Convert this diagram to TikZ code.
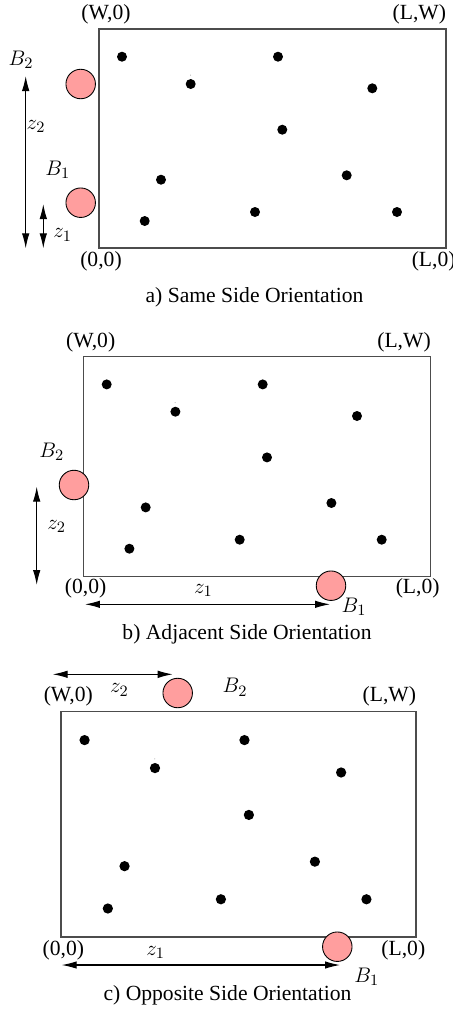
\documentclass[tikz,border=0pt]{standalone}
\usepackage{fontspec}
\setmainfont{Liberation Serif}
\usetikzlibrary{arrows.meta}

\definecolor{beaconpink}{RGB}{255,158,158}

% sensor positions, measured from the top left corner of a field
\newcommand{\sensorpts}{23/27.7, 179/27.7, 91.7/55, 273.3/59.3, 183.3/100.7,
  62/150.7, 247.7/146.3, 45.7/192, 156/183, 298/183}

\tikzset{
  field/.style={draw=black!70, line width=0.7pt},
  sensor/.style={fill=black},
  beacon/.style={circle, draw=black, fill=beaconpink, line width=0.5pt,
    minimum size=0.59cm, inner sep=0pt},
  lbl/.style={inner sep=0pt, font=\fontsize{12.3}{14}\selectfont},
  dim/.style={<->, line width=0.6pt}
}

\begin{document}
\begin{tikzpicture}[x=0.02cm, y=-0.02cm, >={Latex[length=0.3cm,width=0.15cm]}]
    \useasboundingbox (0,0) rectangle (453,1009);

    % ---- a) same side ----
    \draw[field] (99,29) rectangle (446,248);
    \begin{scope}[shift={(99,29)}]
        \foreach \x/\y in \sensorpts \fill[sensor] (\x,\y) circle (5);
        \fill[black!40] (91.5,46) circle (0.5);
    \end{scope}
    \node[lbl] (aW0) at (106,14) {(W,0)};
    \node[lbl] (aLW) at (419.3,14) {(L,W)};
    \node[lbl] (a00) at (101,261) {(0,0)};
    \node[lbl] (aL0) at (433.7,261) {(L,0)};

    \node[beacon] (aB2) at (80.7,84) {};
    \node[beacon] (aB1) at (80.7,202.7) {};
    \node[lbl] (aB2lbl) at (21,60) {$B_2$};
    \node[lbl] (aB1lbl) at (57.7,170) {$B_1$};

    \coordinate (az2top) at (25.7,76);
    \coordinate (az2bot) at (25.7,248.3);
    \coordinate (az1top) at (43.3,204);
    \coordinate (az1bot) at (43.3,248.3);
    \draw[dim] (az2top) -- (az2bot);
    \draw[dim] (az1top) -- (az1bot);
    \node[lbl] (az2) at (36,126.7) {$z_2$};
    \node[lbl] (az1) at (62.7,235) {$z_1$};

    \node[lbl] (acap) at (254.5,297.7) {a) Same Side Orientation};

    % ---- b) adjacent side ----
    \draw[field] (83.7,356.7) rectangle (430.3,576.7);
    \begin{scope}[shift={(83.7,356.7)}]
        \foreach \x/\y in \sensorpts \fill[sensor] (\x,\y) circle (5);
        \fill[black!40] (91.5,46) circle (0.5);
    \end{scope}
    \node[lbl] (bW0) at (90.7,342.7) {(W,0)};
    \node[lbl] (bLW) at (404,342.7) {(L,W)};
    \node[lbl] (b00) at (85.7,588.3) {(0,0)};
    \node[lbl] (bL0) at (417.7,588.3) {(L,0)};

    \node[beacon] (bB2) at (74,485) {};
    \node[beacon] (bB1) at (331,585.7) {};
    \node[lbl] (bB2lbl) at (51.7,451.7) {$B_2$};
    \node[lbl] (bB1lbl) at (354,606.7) {$B_1$};

    \coordinate (bz2top) at (36.7,486.7);
    \coordinate (bz2bot) at (36.7,585);
    \coordinate (bz1lft) at (85,604.3);
    \coordinate (bz1rgt) at (330,604.3);
    \draw[dim] (bz2top) -- (bz2bot);
    \draw[dim] (bz1lft) -- (bz1rgt);
    \node[lbl] (bz2) at (56.7,526.7) {$z_2$};
    \node[lbl] (bz1) at (203.3,590.7) {$z_1$};

    \node[lbl] (bcap) at (247,634) {b) Adjacent Side Orientation};

    % ---- c) opposite side ----
    \draw[field] (61,711.7) rectangle (416,937);
    \begin{scope}[shift={(61,711.7)}, scale=1.025]
        \foreach \x/\y in \sensorpts \fill[sensor] (\x,\y) circle (5);
        \fill[black!40] (91.5,46) circle (0.5);
    \end{scope}
    \node[lbl] (cW0) at (68.3,696.7) {(W,0)};
    \node[lbl] (cLW) at (389.3,696.7) {(L,W)};
    \node[lbl] (c00) at (63.3,950) {(0,0)};
    \node[lbl] (cL0) at (403.3,950) {(L,0)};

    \node[beacon] (cB2) at (177.7,693) {};
    \node[beacon] (cB1) at (337.3,946.7) {};
    \node[lbl] (cB2lbl) at (235,687.3) {$B_2$};
    \node[lbl] (cB1lbl) at (366.7,976.7) {$B_1$};

    \coordinate (cz2lft) at (52.7,674.3);
    \coordinate (cz2rgt) at (172.7,674.3);
    \coordinate (cz1lft) at (61.7,965);
    \coordinate (cz1rgt) at (340,965);
    \draw[dim] (cz2lft) -- (cz2rgt);
    \draw[dim] (cz1lft) -- (cz1rgt);
    \node[lbl] (cz2) at (119.3,690) {$z_2$};
    \node[lbl] (cz1) at (155.7,952.7) {$z_1$};

    \node[lbl] (ccap) at (227.5,995) {c) Opposite Side Orientation};
\end{tikzpicture}
\end{document}
